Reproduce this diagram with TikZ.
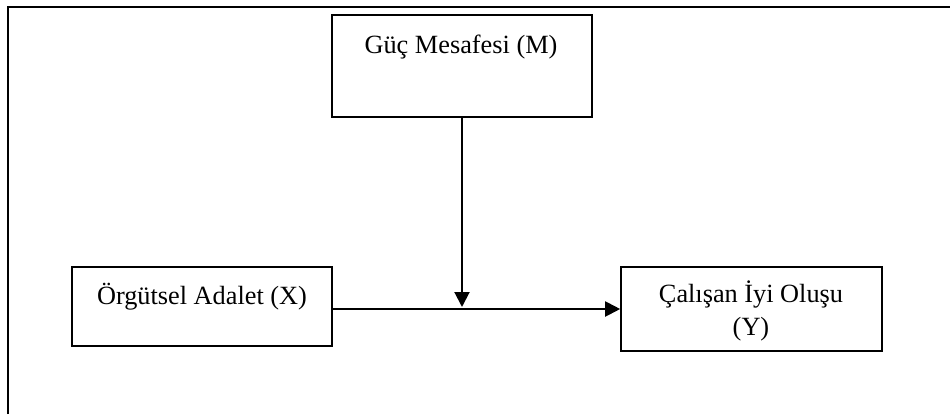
\documentclass[tikz,border=0pt]{standalone}
\usepackage{fontspec}
\setmainfont{Liberation Serif}
\usetikzlibrary{arrows.meta}
\begin{document}
\begin{tikzpicture}[x=0.5pt,y=-0.5pt,
  box/.style={draw=black, line width=0.8pt, rectangle, inner sep=0pt},
  lbl/.style={anchor=base, inner sep=0pt, font=\fontsize{13.15}{16}\selectfont},
  conn/.style={draw=black, line width=1pt, -{Triangle[length=7.5pt,width=7.5pt]}}]
  \useasboundingbox (0,0) rectangle (950,414);
  % page frame (only the top and left edges lie inside the view)
  \draw[line width=1.1pt] (8,414) -- (8,7) -- (950,7);
  % boxes
  \node[box, minimum width=130pt, minimum height=51pt] (M) at (462,66) {};
  \node[box, minimum width=130pt, minimum height=39.5pt] (X) at (202,306.5) {};
  \node[box, minimum width=130.5pt, minimum height=42pt] (Y) at (751.5,309) {};
  % labels
  \node[lbl] (Mt) at (461,53) {Güç Mesafesi (M)};
  \node[lbl] (Xt) at (202,304) {Örgütsel Adalet (X)};
  \node[lbl] (Yt1) at (751,302) {Çalışan İyi Oluşu};
  \node[lbl] (Yt2) at (751,335) {(Y)};
  % connectors
  \coordinate (J) at (462,309);
  \draw[conn] (X.east |- J) -- (Y.west);
  \draw[conn] (M.south) -- ([yshift=1pt]J);
\end{tikzpicture}
\end{document}
